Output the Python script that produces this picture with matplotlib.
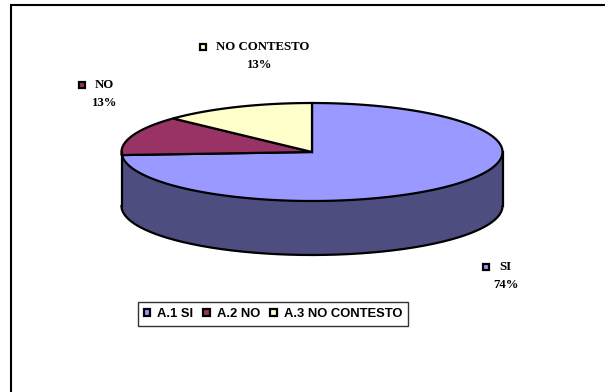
import numpy as np
import matplotlib
matplotlib.use("Agg")
import matplotlib.pyplot as plt
from matplotlib.patches import Polygon, Rectangle, Patch

categories = ["SI", "NO", "NO CONTESTO"]
legend_labels = ["A.1 SI", "A.2 NO", "A.3 NO CONTESTO"]
values = [74, 13, 13]
top_colors = ["#9999FF", "#993366", "#FFFFCC"]
side_colors = ["#4D4D80", "#4D1A33", "#80806A"]

W, H = 605, 392
fig = plt.figure(figsize=(W / 100, H / 100), dpi=100)
ax = fig.add_axes([0, 0, 1, 1])
ax.set_xlim(0, W)
ax.set_ylim(H, 0)
ax.axis("off")

# ellipse geometry of the pie (pixel units)
cx, cy = 312, 152
a, b = 190.5, 49
depth = 54
edge_lw = 1.6


def pt(t_deg, dz=0.0):
    t = np.radians(t_deg)
    return cx + a * np.cos(t), cy - b * np.sin(t) + dz


# wedge angles: start at 12 o'clock, go clockwise
fracs = np.array(values, dtype=float) / sum(values)
starts = 90 - 360 * np.concatenate([[0], np.cumsum(fracs)[:-1]])
ends = starts - 360 * fracs

# front side walls (visible between 180 and 360 degrees)
for s, e, sc in zip(starts, ends, side_colors):
    lo, hi = min(s, e), max(s, e)
    shift = np.floor(lo / 360) * 360
    lo2, hi2 = lo - shift, hi - shift
    for base in (0, 360):
        l = max(lo2 - base, 180)
        h = min(hi2 - base, 360)
        if h > l:
            ts = np.linspace(l, h, 120)
            top = [pt(t) for t in ts]
            bot = [pt(t, depth) for t in ts[::-1]]
            ax.add_patch(Polygon(top + bot, closed=True, facecolor=sc,
                                 edgecolor="none", zorder=1))

# outline of the side wall
ts = np.linspace(180, 360, 300)
bx = [pt(t, depth)[0] for t in ts]
by = [pt(t, depth)[1] for t in ts]
ax.plot(bx, by, color="black", lw=edge_lw, zorder=3)
for t in (180, 360):
    x0, y0 = pt(t)
    ax.plot([x0, x0], [y0, y0 + depth], color="black", lw=edge_lw, zorder=3)

# top faces
for s, e, tc in zip(starts, ends, top_colors):
    ts = np.linspace(s, e, 200)
    pts = [(cx, cy)] + [pt(t) for t in ts]
    ax.add_patch(Polygon(pts, closed=True, facecolor=tc, edgecolor="black",
                         lw=edge_lw, joinstyle="miter", zorder=2))

# data labels
label_font = dict(family="Liberation Serif", weight="bold", fontsize=9.2)
label_pos = {"SI": (499, 267, 506, 285),
             "NO": (95, 85, 105, 103),
             "NO CONTESTO": (216, 47, 260, 65)}


def key_box(x, y, color):
    ax.add_patch(Rectangle((x - 3, y - 3), 6, 6, facecolor=color,
                           edgecolor="black", lw=1.6, zorder=5))


for cat, v, tc in zip(categories, values, top_colors):
    nx, ny, px, py = label_pos[cat]
    key_box(nx - 13, ny, tc)
    ax.text(nx, ny, cat, ha="left", va="center", **label_font)
    ax.text(px, py, f"{v / sum(values) * 100:.0f}%", ha="center",
            va="center", **label_font)

# legend
handles = [Patch(facecolor=c, edgecolor="black", lw=1.6) for c in top_colors]
leg = ax.legend(handles, legend_labels, ncol=3, loc="center",
                bbox_to_anchor=(273 / W, 1 - 314 / H),
                bbox_transform=fig.transFigure,
                prop=dict(family="Liberation Sans", weight="bold", size=9.4),
                frameon=True, fancybox=False, handlelength=0.5,
                handleheight=0.5, handletextpad=0.55, columnspacing=0.75,
                borderpad=0.45, borderaxespad=0)
leg.get_frame().set_edgecolor("black")
leg.get_frame().set_linewidth(1.0)

# chart area frame
ax.plot([11, 11, W + 5], [H + 5, 4.5, 4.5], color="black", lw=1.5,
        solid_joinstyle="miter", clip_on=False)

fig.savefig("out.png", dpi=100)
